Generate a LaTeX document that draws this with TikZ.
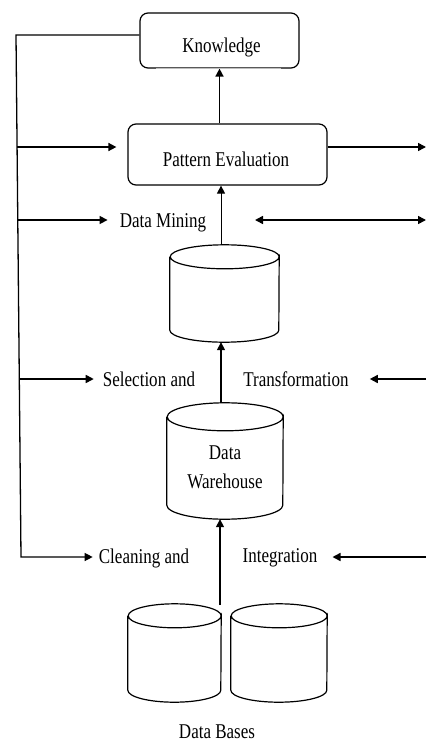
\documentclass[tikz,border=0pt]{standalone}
\usepackage{fontspec}
\setmainfont{Liberation Serif}
\usetikzlibrary{arrows.meta,calc}
% condensed label text
\newcommand{\nt}[1]{\scalebox{0.81}[1]{#1}}
% drum outline round a named node: node, x radius, y radius of the end ellipses
\newcommand{\drum}[3]{%
  \draw[line width=1.2pt, fill=white]
    ($(#1.north west)+(0,#3)$) -- ($(#1.south west)+(0,-#3)$)
    arc[start angle=180, end angle=0, x radius=#2, y radius=#3]
    -- ($(#1.north east)+(0,#3)$)
    arc[start angle=0, end angle=180, x radius=#2, y radius=#3]
    arc[start angle=180, end angle=360, x radius=#2, y radius=#3];
}

\begin{document}
\begin{tikzpicture}[x=1pt,y=-1pt,
  every node/.style={font=\fontsize{21}{25}\selectfont, inner sep=0pt},
  stagebox/.style={draw, line width=1.2pt, rounded corners=8pt, fill=white},
  store/.style={minimum width=#1, inner sep=0pt},
  arr/.style={line width=1.6pt, -{Triangle[length=8pt,width=8pt]}},
  thinarr/.style={line width=0.9pt, -{Triangle[length=8pt,width=8pt]}},
  dblarr/.style={line width=1.6pt, {Triangle[length=8pt,width=8pt]}-{Triangle[length=8pt,width=8pt]}},
  feed/.style={line width=1.3pt}]

\useasboundingbox (0,0) rectangle (426,742);

% process stages
\node[stagebox, minimum width=159pt, minimum height=55pt] (know) at (219.5,40.5) {};
\node (knowt) at (221.5,47) {\nt{Knowledge}};
\node[stagebox, minimum width=199pt, minimum height=61pt] (pe) at (227.5,154.5) {};
\node (pet) at (226,159) {\nt{Pattern Evaluation}};

% data stores
\node[store=109pt, minimum height=97pt] (c1) at (224.5,293.5) {};
\node[store=116pt, minimum height=116pt] (dw) at (225,461) {};
\node[store=93pt, minimum height=98pt] (db1) at (174.5,653) {};
\node[store=96pt, minimum height=98pt] (db2) at (279,653) {};
\drum{c1}{54.5}{12}
\drum{dw}{58}{14}
\drum{db1}{46.5}{12}
\drum{db2}{48}{12}
\node (dwt) at (225,467) [align=center] {\nt{Data}\\[4pt]\nt{Warehouse}};
\node (dbl) at (217,732) {\nt{Data Bases}};

% step labels
\node (dm) at (163,223) {\nt{Data Mining}};
\node (sel) at (149,379) {\nt{Selection and}};
\node (tra) at (296,379) {\nt{Transformation}};
\node (cln) at (144,558) {\nt{Cleaning and}};
\node (int) at (280,558) {\nt{Integration}};

% feedback line on the left
\coordinate (fbtop) at (16,35);
\coordinate (fbbot) at (21,557);
\coordinate (fA) at (17,147);
\coordinate (fB) at (17.8,220);
\coordinate (fC) at (19.3,379);
% right edge
\coordinate (rA) at (426,147);
\coordinate (rB) at (426,220);
\coordinate (rC) at (426,379);
\coordinate (rD) at (426,557);
\coordinate (dmR) at (255,220);
% vertical flow axis
\coordinate (ax) at (221,0);
\coordinate (ax2) at (220,605);

% main upward flow
\draw[arr] (know.south |- pe.north) -- (know.south);
\draw[thinarr] (c1.north -| ax) -- (pe.south -| ax);
\draw[arr] (dw.north -| ax) -- (c1.south -| ax);
\draw[arr] (ax2) -- (dw.south -| ax2);

% feedback and side arrows
\draw[feed, -{Triangle[length=8pt,width=8pt]}, shorten >=6pt]
  (know.west |- fbtop) -- (fbtop) -- (fbbot) -- (cln.west |- fbbot);
\draw[arr, shorten >=11pt] (fA) -- (pe.west |- fA);
\draw[arr, shorten >=12pt] (fB) -- (dm.west |- fB);
\draw[arr, shorten >=9pt] (fC) -- (sel.west |- fC);
\draw[arr] (pe.east |- rA) -- (rA);
\draw[dblarr] (dmR) -- (rB);
\draw[arr, shorten >=21pt] (rC) -- (tra.east |- rC);
\draw[arr, shorten >=15pt] (rD) -- (int.east |- rD);

% faint middle of the knowledge box base
\draw[white, line width=1.6pt] ($(know.south west)+(17,0)$) -- ($(know.south east)+(-19,0)$);
\draw[black!25, line width=0.8pt] ($(know.south west)+(17,0)$) -- ($(know.south east)+(-19,0)$);
\end{tikzpicture}
\end{document}
